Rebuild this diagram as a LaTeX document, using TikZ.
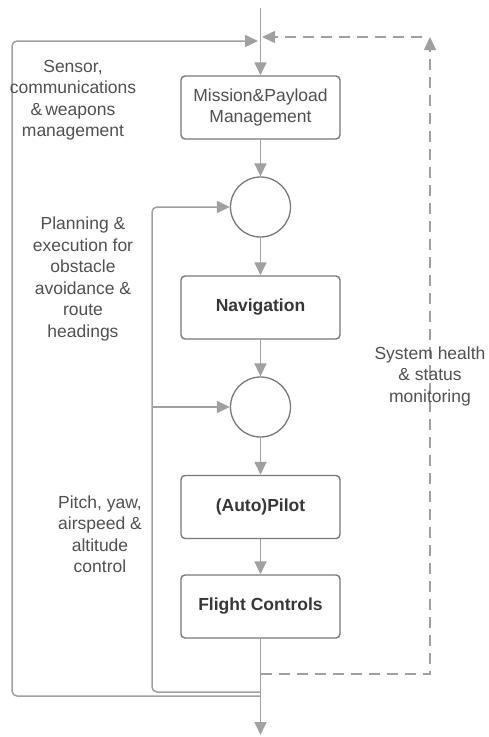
\documentclass[tikz,border=0pt]{standalone}
\usepackage{fontspec}
\setmainfont{Liberation Sans}
\usetikzlibrary{arrows.meta}
\definecolor{linegray}{RGB}{160,160,160}
\definecolor{boxgray}{RGB}{120,120,120}
\definecolor{txtgray}{RGB}{80,80,80}
\definecolor{boldgray}{RGB}{55,55,55}
\tikzset{
  >={Triangle[length=13pt,width=12pt]},
  conn/.style={draw=linegray, line width=1.5pt, color=linegray},
  dash line/.style={conn, dash pattern=on 11pt off 7pt},
  blockbox/.style={draw=boxgray, line width=1.4pt, rounded corners=4pt, fill=white,
    minimum width=159pt, minimum height=63pt, inner sep=0pt, align=center,
    font=\fontsize{17.5}{21.5}\selectfont, text=txtgray},
  boldbox/.style={blockbox, font=\fontsize{17.5}{21.5}\selectfont\bfseries, text=boldgray},
  sumnode/.style={circle, draw=boxgray, line width=1.3pt, minimum size=60pt, inner sep=0pt},
  note/.style={align=center, inner sep=0pt, text=txtgray, font=\fontsize{17.5}{21.5}\selectfont}
}
\begin{document}
\begin{tikzpicture}[x=1pt,y=-1pt]
\useasboundingbox (0,0) rectangle (489,737);

% blocks along the main signal chain
\node[blockbox] (mission) at (260.5,107.5) {Mission\&Payload\\Management};
\node[sumnode] (sum1) at (260.5,207) {};
\node[boldbox] (nav) at (260.5,307.5) {Navigation};
\node[sumnode] (sum2) at (260.5,407) {};
\node[boldbox] (pilot) at (260.5,507) {(Auto)Pilot};
\node[boldbox] (flight) at (260.5,606.5) {Flight Controls};

% junction points
\coordinate (top) at (260.5,8);
\coordinate (join) at (260.5,41);
\coordinate (out) at (260.5,735);
\coordinate (outerL) at (260.5,696);
\coordinate (innerL) at (260.5,692);
\coordinate (dashB) at (260.5,674);
\coordinate (dashC) at (430,37);
\coordinate (dashT) at (262,37);

% main chain
\draw[conn,->] (top) -- (mission.north);
\draw[conn,->] (mission.south) -- (sum1.north);
\draw[conn,->] (sum1.south) -- (nav.north);
\draw[conn,->] (nav.south) -- (sum2.north);
\draw[conn,->] (sum2.south) -- (pilot.north);
\draw[conn,->] (pilot.south) -- (flight.north);
\draw[conn,->] (flight.south) -- (out);

% outer feedback loop
\draw[conn,->,rounded corners=5pt] (outerL) -- (12,696) -- (12,41) -- ([xshift=-2.5pt]join);

% inner feedback loops
\draw[conn,->,rounded corners=5pt] (innerL) -- (152,692) -- (152,207) -- (sum1.west);
\draw[conn,->,rounded corners=5pt] (152,407) -- (sum2.west);

% health monitoring (dashed)
\draw[dash line,->] (dashB) -- (430,674) -- (dashC);
\draw[dash line,->] ([xshift=-8pt]dashC) -- (dashT);

% annotations
\node[note] (lbl1) at (73,100) {Sensor,\\communications\\\&\,weapons\\management};
\node[note] (lbl2) at (83,279) {Planning \&\\execution for\\obstacle\\avoidance \&\\route\\headings};
\node[note] (lbl3) at (430,376) {System health\\\& status\\monitoring};
\node[note] (lbl4) at (100,534) {Pitch, yaw,\\airspeed \&\\altitude\\control};
\end{tikzpicture}
\end{document}
